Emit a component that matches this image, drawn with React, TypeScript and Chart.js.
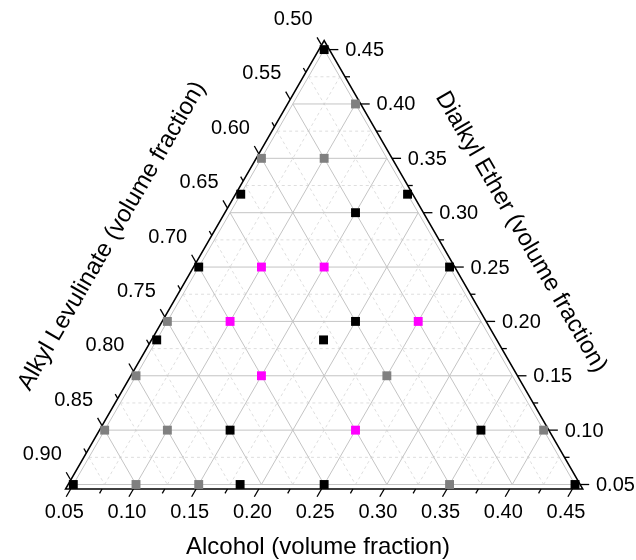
import React, { useEffect, useRef } from "react";
import { Chart, registerables } from "chart.js";

Chart.register(...registerables);

// ---- Axis definition (volume fractions) ----
const axisMin = 0.05;
const axisSpan = 0.4;
const alcoholTickLabels = ["0.05", "0.10", "0.15", "0.20", "0.25", "0.30", "0.35", "0.40", "0.45"];
const etherTickLabels = ["0.05", "0.10", "0.15", "0.20", "0.25", "0.30", "0.35", "0.40", "0.45"];
const levulinateTickLabels = ["0.50", "0.55", "0.60", "0.65", "0.70", "0.75", "0.80", "0.85", "0.90"];
const alcoholTicks = [0.05, 0.1, 0.15, 0.2, 0.25, 0.3, 0.35, 0.4, 0.45];
const etherTicks = [0.05, 0.1, 0.15, 0.2, 0.25, 0.3, 0.35, 0.4, 0.45];
const levulinateTicks = [0.5, 0.55, 0.6, 0.65, 0.7, 0.75, 0.8, 0.85, 0.9];

const bottomTitle = "Alcohol (volume fraction)";
const leftTitle = "Alkyl Levulinate (volume fraction)";
const rightTitle = "Dialkyl Ether (volume fraction)";

// ---- Data: [alcohol, dialkyl ether]; alkyl levulinate = 1 - alcohol - ether ----
const blackAlcohol = [0.05, 0.05, 0.183, 0.15, 0.05, 0.25, 0.2, 0.05, 0.183, 0.15, 0.35, 0.05, 0.183, 0.25, 0.45];
const blackEther = [0.45, 0.317, 0.317, 0.3, 0.25, 0.25, 0.2, 0.183, 0.183, 0.1, 0.1, 0.05, 0.05, 0.05, 0.05];

const grayAlcohol = [0.1, 0.05, 0.1, 0.05, 0.05, 0.25, 0.05, 0.1, 0.4, 0.1, 0.15, 0.35];
const grayEther = [0.4, 0.35, 0.35, 0.2, 0.15, 0.15, 0.1, 0.1, 0.1, 0.05, 0.05, 0.05];

const magentaAlcohol = [0.1, 0.15, 0.1, 0.25, 0.15, 0.25];
const magentaEther = [0.25, 0.25, 0.2, 0.2, 0.15, 0.1];

const SQ = Math.sqrt(3) / 2;

function toXY(a: number, e: number) {
  const A = (a - axisMin) / axisSpan;
  const E = (e - axisMin) / axisSpan;
  return { x: A + E / 2, y: E * SQ };
}

function series(al: number[], et: number[]) {
  return al.map((a, i) => toXY(a, et[i]));
}

const FONT = '"Liberation Sans", Arial, Helvetica, sans-serif';

const ternaryPlugin = {
  id: "ternary",
  beforeDatasetsDraw(chart: any) {
    const ctx = chart.ctx as CanvasRenderingContext2D;
    const xs = chart.scales.x;
    const ys = chart.scales.y;
    const px = (a: number, e: number): [number, number] => {
      const p = toXY(a, e);
      return [xs.getPixelForValue(p.x), ys.getPixelForValue(p.y)];
    };
    const line = (p: [number, number], q: [number, number]) => {
      ctx.beginPath();
      ctx.moveTo(p[0], p[1]);
      ctx.lineTo(q[0], q[1]);
      ctx.stroke();
    };
    ctx.save();

    // grid lines
    for (const pass of ["minor", "major"]) {
      for (let i = 0; i <= 16; i++) {
        const major = i % 2 === 0;
        if ((pass === "major") !== major) continue;
        if (major) {
          ctx.strokeStyle = "#c4c4c4";
          ctx.setLineDash([]);
        } else {
          ctx.strokeStyle = "#dedede";
          ctx.setLineDash([3, 3]);
        }
        ctx.lineWidth = 1;
        const v = axisMin + i * 0.025;
        if (v < 0.449) {
          line(px(v, 0.05), px(v, 0.5 - v)); // constant alcohol
          line(px(0.05, v), px(0.5 - v, v)); // constant ether
        }
        const l = 0.5 + i * 0.025;
        const s = 1 - l;
        if (s > 0.101) line(px(0.05, s - 0.05), px(s - 0.05, 0.05)); // constant levulinate
      }
    }
    ctx.setLineDash([]);

    // axes (offset outward)
    const d = 4.5;
    const BL = px(0.05, 0.05);
    const BR = px(0.45, 0.05);
    const T = px(0.05, 0.45);
    const C = [(BL[0] + BR[0] + T[0]) / 3, (BL[1] + BR[1] + T[1]) / 3];
    const out = (V: [number, number]): [number, number] => {
      const dx = V[0] - C[0];
      const dy = V[1] - C[1];
      const n = Math.hypot(dx, dy);
      return [V[0] + (2 * d * dx) / n, V[1] + (2 * d * dy) / n];
    };
    const bl = out(BL), br = out(BR), t = out(T);
    ctx.strokeStyle = "#000";
    ctx.lineWidth = 1.5;
    ctx.beginPath();
    ctx.moveTo(bl[0], bl[1]);
    ctx.lineTo(br[0], br[1]);
    ctx.lineTo(t[0], t[1]);
    ctx.closePath();
    ctx.stroke();

    const s60 = Math.sin(Math.PI / 3);
    const c60 = 0.5;
    const startOff = d / s60;
    const drawTick = (P: [number, number], dir: [number, number], len: number) => {
      const a0: [number, number] = [P[0] + dir[0] * startOff, P[1] + dir[1] * startOff];
      const a1: [number, number] = [a0[0] + dir[0] * len, a0[1] + dir[1] * len];
      line(a0, a1);
    };
    const majorLen = 9;
    const minorLen = 5;
    const dirBottom: [number, number] = [-c60, s60];
    const dirRight: [number, number] = [1, 0];
    const dirLeft: [number, number] = [-c60, -s60];

    ctx.lineWidth = 1.3;
    for (let i = 0; i <= 16; i++) {
      const len = i % 2 === 0 ? majorLen : minorLen;
      const v = axisMin + i * 0.025;
      drawTick(px(v, 0.05), dirBottom, len);
      drawTick(px(0.5 - v, v), dirRight, len);
      const l = 0.5 + i * 0.025;
      drawTick(px(0.05, 0.95 - l), dirLeft, len);
    }

    // tick labels
    ctx.fillStyle = "#000";
    ctx.font = `20px ${FONT}`;
    ctx.textBaseline = "middle";
    ctx.textAlign = "center";
    alcoholTicks.forEach((v, i) => {
      const P = px(v, 0.05);
      ctx.fillText(alcoholTickLabels[i], P[0] - 9, P[1] + 28);
    });
    levulinateTicks.forEach((l, i) => {
      const P = px(0.05, 0.95 - l);
      ctx.fillText(levulinateTickLabels[i], P[0] - 31, P[1] - 30);
    });
    ctx.textAlign = "left";
    etherTicks.forEach((v, i) => {
      const P = px(0.5 - v, v);
      ctx.fillText(etherTickLabels[i], P[0] + 21, P[1] + 1);
    });

    // titles
    ctx.font = `24px ${FONT}`;
    ctx.textAlign = "center";
    ctx.fillText(bottomTitle, 318, 547);
    ctx.save();
    ctx.translate(112, 236);
    ctx.rotate(-Math.PI / 3);
    ctx.fillText(leftTitle, 0, 0);
    ctx.restore();
    ctx.save();
    ctx.translate(521, 232);
    ctx.rotate(Math.PI / 3);
    ctx.fillText(rightTitle, 0, 0);
    ctx.restore();

    ctx.restore();
  },
};

export default function App() {
  const ref = useRef<HTMLCanvasElement | null>(null);
  useEffect(() => {
    if (!ref.current) return;
    const mk = (label: string, color: string, al: number[], et: number[]) => ({
      label,
      data: series(al, et),
      backgroundColor: color,
      borderColor: color,
      borderWidth: 0,
      pointStyle: "rect",
      pointRadius: 6.3,
      pointHoverRadius: 6.3,
      clip: false,
    });
    const chart = new Chart(ref.current, {
      type: "scatter",
      data: {
        datasets: [
          mk("gray", "#808080", grayAlcohol, grayEther),
          mk("magenta", "#ff00ff", magentaAlcohol, magentaEther),
          mk("black", "#000000", blackAlcohol, blackEther),
        ],
      },
      options: {
        responsive: false,
        animation: false,
        events: [],
        layout: { padding: { left: 73.3, right: 61, top: 49.6, bottom: 75.5 } },
        scales: {
          x: { type: "linear", min: 0, max: 1, display: false },
          y: { type: "linear", min: 0, max: SQ, display: false },
        },
        plugins: { legend: { display: false }, tooltip: { enabled: false } },
      } as any,
      plugins: [ternaryPlugin],
    });
    return () => chart.destroy();
  }, []);
  return (
    <div style={{ position: "absolute", left: 0, top: 0, width: 636, height: 560, background: "#fff" }}>
      <canvas ref={ref} width={636} height={560} />
    </div>
  );
}
